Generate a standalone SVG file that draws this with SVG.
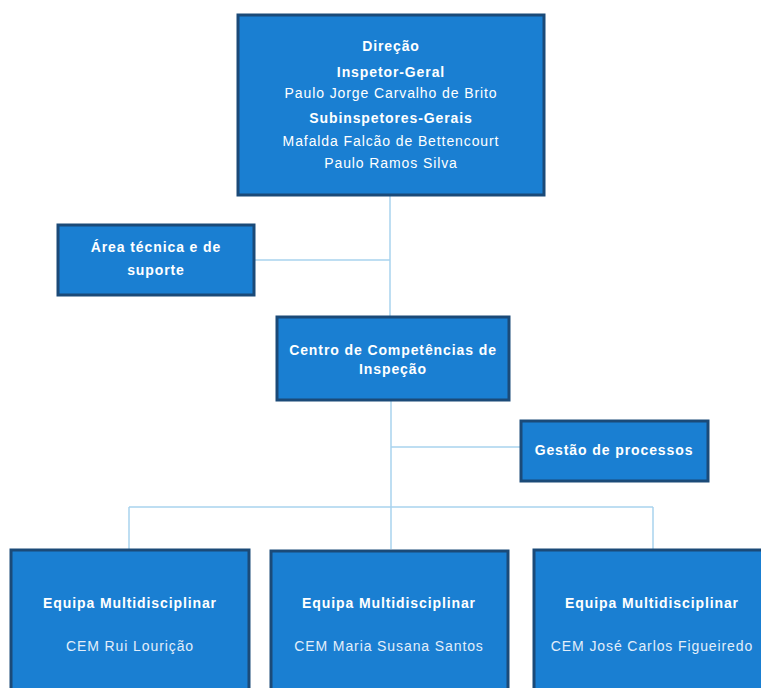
<svg xmlns="http://www.w3.org/2000/svg" width="761" height="688" viewBox="0 0 761 688">
<style>
.box{fill:#1a7fd2;stroke:#1b4a78;stroke-width:3}
.t{font-family:"Liberation Sans",Arial,sans-serif;fill:#fff;text-anchor:middle;font-size:14px;letter-spacing:0.9px}
.b{font-weight:bold}
.n{fill:#e2eefa}
.c{stroke:#a9d3ee;stroke-width:1.5;fill:none}
</style>
<rect width="761" height="688" fill="#fff"/>
<g id="connectors">
<path class="c" d="M390 195V316M254 260H390M391 400V549M391 447H520M129 507H653M129 507V549M653 507V549"/>
</g>
<g id="direcao">
<rect class="box" x="238" y="15" width="306" height="180"/>
<text class="t b" x="391" y="51">Direção</text>
<text class="t b" x="391" y="77">Inspetor-Geral</text>
<text class="t" x="391" y="98">Paulo Jorge Carvalho de Brito</text>
<text class="t b" x="391" y="123">Subinspetores-Gerais</text>
<text class="t" x="391" y="146">Mafalda Falcão de Bettencourt</text>
<text class="t" x="391" y="168">Paulo Ramos Silva</text>
</g>
<g id="area-tecnica">
<rect class="box" x="58" y="225" width="196" height="70"/>
<text class="t b" x="156" y="252">Área técnica e de</text>
<text class="t b" x="156" y="275">suporte</text>
</g>
<g id="centro">
<rect class="box" x="277" y="317" width="232" height="83"/>
<text class="t b" x="393" y="355">Centro de Competências de</text>
<text class="t b" x="393" y="374">Inspeção</text>
</g>
<g id="gestao">
<rect class="box" x="521" y="421" width="187" height="60"/>
<text class="t b" x="614" y="455">Gestão de processos</text>
</g>
<g id="equipa1">
<rect class="box" x="11" y="550" width="238" height="145"/>
<text class="t b" x="130" y="608">Equipa  Multidisciplinar</text>
<text class="t n" x="130" y="651">CEM Rui Lourição</text>
</g>
<g id="equipa2">
<rect class="box" x="271" y="551" width="237" height="145"/>
<text class="t b" x="389" y="608">Equipa  Multidisciplinar</text>
<text class="t n" x="389" y="651">CEM Maria Susana Santos</text>
</g>
<g id="equipa3">
<rect class="box" x="534" y="550" width="235" height="145"/>
<text class="t b" x="652" y="608">Equipa  Multidisciplinar</text>
<text class="t n" x="652" y="651">CEM José Carlos Figueiredo</text>
</g>
</svg>
